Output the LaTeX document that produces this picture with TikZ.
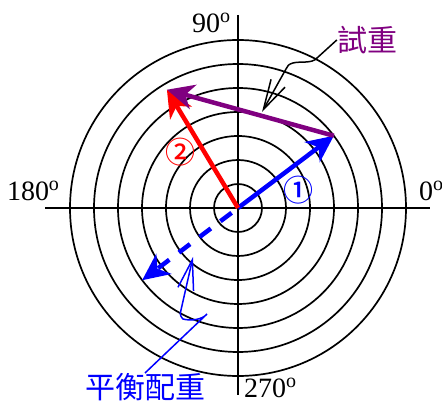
\documentclass[tikz,border=0pt]{standalone}
\usepackage{fontspec}
\setmainfont{Liberation Serif}
\newfontfamily\cjk{Noto Sans CJK TC}
\newfontfamily\cjkb{Noto Sans CJK TC Medium}
\usetikzlibrary{arrows.meta}
\definecolor{purp}{RGB}{128,0,128}
\definecolor{bl}{RGB}{0,0,255}
\definecolor{rd}{RGB}{255,0,0}
\newcommand\degsup{\raisebox{9.5pt}{\fontsize{20}{20}\selectfont o}}
\tikzset{
  ring/.style={line width=1.7pt, black},
  axis/.style={line width=1.7pt, black},
  vec/.style={line width=4.5pt, -{Stealth[length=27pt,width=25pt,inset=8pt]}},
  deg/.style={inner sep=0pt, font=\fontsize{28}{30}\selectfont},
  cjklab/.style={inner sep=0pt, font=\cjk\fontsize{30}{32}\selectfont},
  numlab/.style={inner sep=0pt, font=\cjkb\fontsize{30}{32}\selectfont},
  callout/.style={line width=1.5pt, -{Straight Barb[length=30pt,width=16pt]}},
}
\begin{document}
\begin{tikzpicture}[x=1pt,y=-1pt]
\useasboundingbox (0,0) rectangle (442,403);
\fill[white] (0,0) rectangle (442,403);
\coordinate (O) at (238,208);
\foreach \r in {24,48,...,168} \draw[ring] (O) circle[radius=\r];
\coordinate (AL) at (45,208);
\coordinate (AR) at (430,208);
\coordinate (AT) at (238,15);
\coordinate (AB) at (238,395);
\draw[axis] (AL) -- (AR);
\draw[axis] (AT) -- (AB);
\node[deg, anchor=center] (d90) at (211,23) {90\degsup};
\node[deg, anchor=center] (d180) at (33,191) {180\degsup};
\node[deg, anchor=west] (d0) at (419,191) {0\degsup};
\node[deg, anchor=west] (d270) at (244,388) {270\degsup};
\coordinate (B) at ([shift={(-37:120)}]O);
\coordinate (D) at ([shift={(143:120)}]O);
\coordinate (R) at ([shift={(-121:138)}]O);
\draw[vec, bl, dash pattern=on 14pt off 12pt, dash phase=-8pt] (O) -- (D);
\draw[vec, bl] (O) -- (B);
\draw[vec, rd] (O) -- (R);
\draw[vec, purp] (B) -- (R);
\node[numlab, text=bl] (n1) at (298,190) {①};
\node[numlab, text=rd] (n2) at (180,152) {②};
\node[cjklab, text=purp] (tw) at (367,40) {試重};
\node[cjklab, text=bl] (bw) at (145,387) {平衡配重};
\draw[callout, black] (tw.west) -- (317,58) .. controls (312,64) and (300,61) .. (293,63) .. controls (289,64) and (287,66) .. (286,69) -- (262,112);
\draw[callout, bl] (bw.north) -- (207,314) .. controls (202,320) and (190,321) .. (183,319) .. controls (180,316) and (180,314) .. (181,310) -- (193,257);
\end{tikzpicture}
\end{document}
